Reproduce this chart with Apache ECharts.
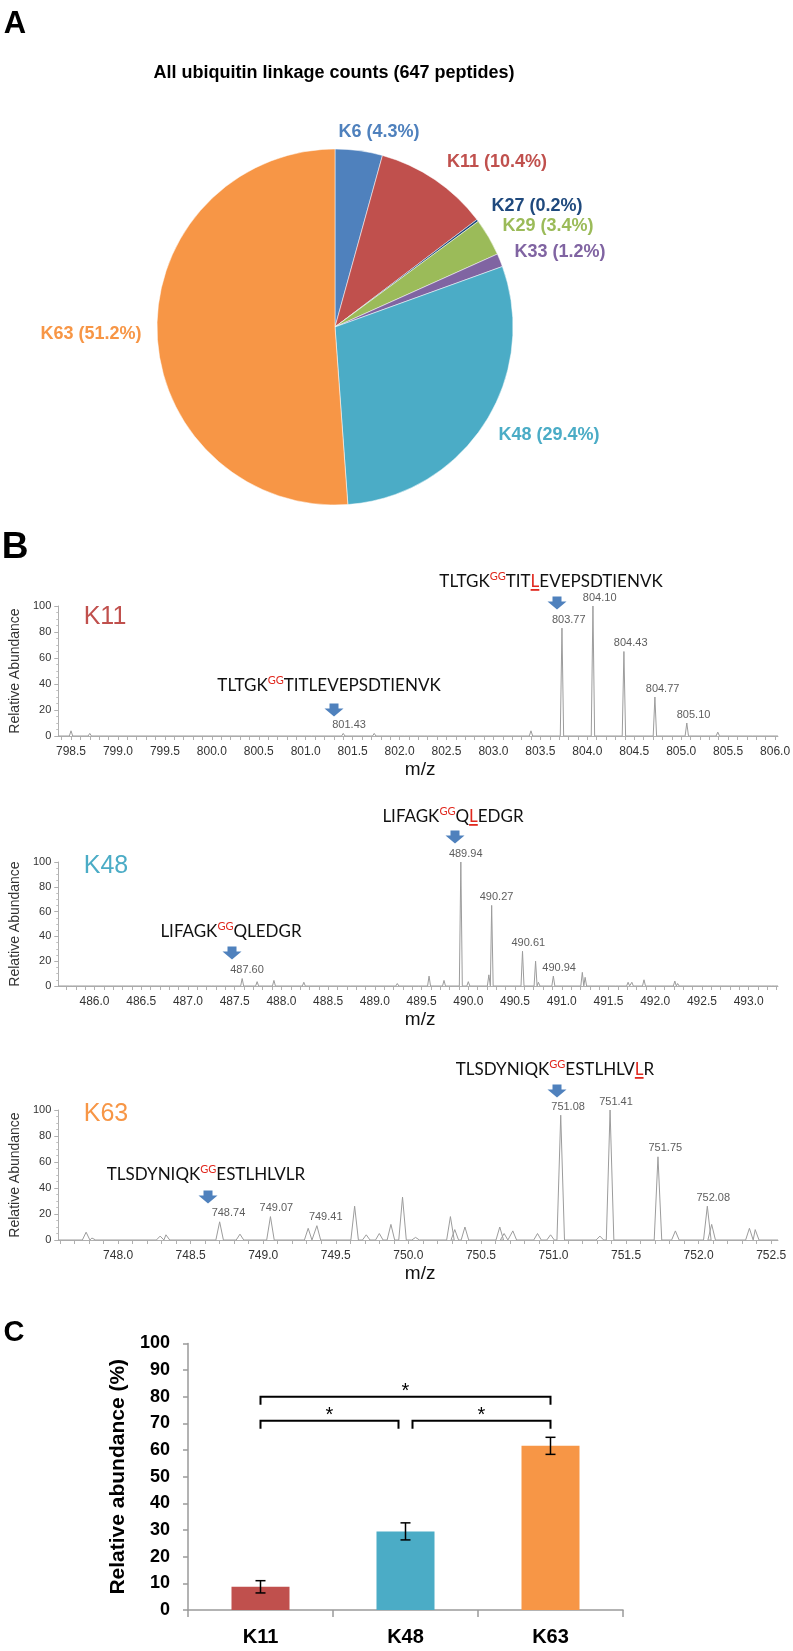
<!DOCTYPE html>
<html><head><meta charset="utf-8">
<script src="https://cdn.jsdelivr.net/npm/echarts@6/dist/echarts.min.js"></script>
<style>html,body{margin:0;padding:0;background:#fff}#c{width:793px;height:1651px}</style>
</head><body><div id="c"></div>
<script>
// ================= Panel A =================
const pieTitle = 'All ubiquitin linkage counts (647 peptides)';
const pieNames = ['K6', 'K11', 'K27', 'K29', 'K33', 'K48', 'K63'];
const piePercents = [4.3, 10.4, 0.2, 3.4, 1.2, 29.4, 51.2];
const pieColors = ['#4F81BD', '#C0504D', '#1F497D', '#9BBB59', '#8064A2', '#4BACC6', '#F79646'];

// ================= Panel B =================
// [m/z, relative abundance]
const k11Peaks = [[798.50,4],[798.70,2],[798.88,1],[801.08,1],[801.40,2],[801.73,2],[802.07,1.5],[802.28,1],[802.40,1],
  [803.40,4],[803.73,83],[804.06,100],[804.39,65],[804.72,30],[805.06,10],[805.39,3],[805.74,1]];
const k11PeakLabels = [[801.43,2],[803.77,83],[804.10,100],[804.43,65],[804.77,30],[805.10,10]];
const k11TickLabels = [798.5,799.0,799.5,800.0,800.5,801.0,801.5,802.0,802.5,803.0,803.5,804.0,804.5,805.0,805.5,806.0];

const k48Peaks = [[485.75,1],[486.30,1],[487.27,1.5],[487.58,6],[487.74,3.5],[487.92,4.5],[488.24,3],[488.72,1],[489.24,2],
  [489.58,8],[489.74,4.5],[489.92,100],[490.00,3.5],[490.22,9],[490.25,65],[490.58,28],[490.72,20],[490.75,3],[490.91,8],
  [491.22,11],[491.25,7],[491.59,1],[491.71,3],[491.75,3],[491.88,5],[492.21,4],[492.24,2],[492.54,1.5],[493.26,1]];
const k48PeakLabels = [[487.60,6],[489.94,100],[490.27,65],[490.61,28],[490.94,8]];
const k48TickLabels = [486.0,486.5,487.0,487.5,488.0,488.5,489.0,489.5,490.0,490.5,491.0,491.5,492.0,492.5,493.0];

const k63Peaks = [[747.78,6],[747.82,1.5],[748.29,3],[748.33,4],[748.70,14],[748.84,4.5],[749.05,18],[749.31,9],[749.37,11],
  [749.63,26],[749.71,4],[749.80,5],[749.88,12],[749.96,33],[750.05,2],[750.29,18],[750.32,8],[750.39,10],[750.63,10],
  [750.66,5],[750.72,7],[750.89,5],[750.98,4],[751.05,96],[751.32,3],[751.39,100],[751.72,64],[751.84,7],[752.06,26],
  [752.09,12],[752.35,9],[752.39,8]];
const k63PeakLabels = [[748.74,14],[749.07,18],[749.41,11],[751.08,96],[751.41,100],[751.75,64],[752.08,26]];
const k63TickLabels = [748.0,748.5,749.0,749.5,750.0,750.5,751.0,751.5,752.0,752.5];

const spectrumNames = ['K11', 'K48', 'K63'];
const spectrumColors = ['#C0504D', '#4BACC6', '#F79646'];
// ^..^ = superscript modification, _.._ = underlined heavy residue
const peptides = [
  ['TLTGK^GG^TITLEVEPSDTIENVK', 'TLTGK^GG^TIT_L_EVEPSDTIENVK'],
  ['LIFAGK^GG^QLEDGR', 'LIFAGK^GG^Q_L_EDGR'],
  ['TLSDYNIQK^GG^ESTLHLVLR', 'TLSDYNIQK^GG^ESTLHLV_L_R']
];
const spectrumYTicks = [0, 20, 40, 60, 80, 100];

// ================= Panel C =================
const barCats = ['K11', 'K48', 'K63'];
const barValues = [8.7, 29.5, 61.6];
const barErrors = [2.3, 3.2, 3.2];
const barColors = ['#C0504D', '#4BACC6', '#F79646'];
const brackets = [[0, 2, 80], [0, 1, 71], [1, 2, 71]]; // from, to, level
const barYTicks = [0,10,20,30,40,50,60,70,80,90,100];

// ================= helpers =================
const ARIAL = '"Liberation Sans", Arial, Helvetica, sans-serif';
const PEPFONT = 'Lato, "Open Sans", sans-serif';
const mctx = document.createElement('canvas').getContext('2d');
function tw(str, font) { mctx.font = font; return mctx.measureText(str).width; }

function spectrumLine(peaks, w, min, max) {
  const pts = [[min, 0]];
  peaks.slice().sort((a, b) => a[0] - b[0]).forEach(([mz, h]) => { pts.push([mz - w, 0], [mz, h], [mz + w, 0]); });
  pts.push([max, 0]);
  return pts;
}
function tenthTicks(min, max) {
  const out = [];
  for (let i = Math.ceil(min * 10); i <= Math.floor(max * 10); i++) out.push(i / 10);
  return out;
}
function peptideGraphic(markup, cx, cy) {
  const big = 17, small = 11;
  const tokens = []; const re = /\^([^^]+)\^|_([^_]+)_|([^^_]+)/g; let m;
  while ((m = re.exec(markup))) {
    if (m[1]) tokens.push({ t: m[1], k: 's' });
    else if (m[2]) tokens.push({ t: m[2], k: 'u' });
    else tokens.push({ t: m[3], k: 'n' });
  }
  const fonts = tokens.map(tk => (tk.k === 's' ? small : big) + 'px ' + PEPFONT);
  const widths = tokens.map((tk, i) => tw(tk.t, fonts[i]));
  const total = widths.reduce((a, b) => a + b, 0);
  let x = cx - total / 2;
  const children = [];
  tokens.forEach((tk, i) => {
    const red = tk.k !== 'n';
    children.push({ type: 'text', style: { text: tk.t, x: x, y: tk.k === 's' ? cy - 6 : cy, font: fonts[i],
      fill: red ? '#E0281E' : '#111', align: 'left', verticalAlign: 'middle', textAlign: 'left', textVerticalAlign: 'middle' } });
    if (tk.k === 'u') children.push({ type: 'rect', shape: { x: x, y: cy + 7, width: widths[i], height: 1.8 }, style: { fill: '#E0281E' } });
    x += widths[i];
  });
  return { type: 'group', z: 100, children };
}
function arrow(cx, cy) {
  return { type: 'polygon', z: 100, shape: { points: [[cx - 4.5, cy - 6.5], [cx + 4.5, cy - 6.5], [cx + 4.5, cy - 1.5], [cx + 9.5, cy - 1.5], [cx, cy + 6.5], [cx - 9.5, cy - 1.5], [cx - 4.5, cy - 1.5]] }, style: { fill: '#4F81BD' } };
}
function txt(text, x, y, size, color, weight, align) {
  return { type: 'text', z: 100, style: { text, x, y, font: (weight || 'normal') + ' ' + size + 'px ' + ARIAL, fill: color,
    align: align || 'center', verticalAlign: 'middle', textAlign: align || 'center', textVerticalAlign: 'middle' } };
}

// layout (pixel) settings
const specGrids = [{ top: 606, height: 130 }, { top: 862, height: 124 }, { top: 1110, height: 130 }];
const specRanges = [[798.364, 806.031], [485.612, 493.314], [747.588, 752.547]];
const specHalfWidth = [0.018, 0.016, 0.026];
const allPeaks = [k11Peaks, k48Peaks, k63Peaks];
const allPeakLabels = [k11PeakLabels, k48PeakLabels, k63PeakLabels];
const allTickLabels = [k11TickLabels, k48TickLabels, k63TickLabels];

const grids = specGrids.map(g => ({ left: 43, width: 735, top: g.top, height: g.height }));
grids.push({ left: 188, width: 435, top: 1343.5, height: 266.5 });

const xAxes = [], yAxes = [], series = [];
for (let i = 0; i < 3; i++) {
  const [mn, mx] = specRanges[i];
  xAxes.push({ type: 'value', gridIndex: i, min: mn, max: mx,
    axisLine: { show: true, onZero: false, lineStyle: { color: '#b0b0b0', width: 1 } },
    axisTick: { show: true, customValues: tenthTicks(mn, mx), length: 4, lineStyle: { color: '#b0b0b0' } },
    axisLabel: { customValues: allTickLabels[i], formatter: v => v.toFixed(1), fontSize: 12, color: '#333', margin: 10, fontFamily: ARIAL },
    splitLine: { show: false },
    name: 'm/z', nameLocation: 'middle', nameGap: 24,
    nameTextStyle: { fontSize: 19, color: '#111', fontFamily: ARIAL, padding: [0, 0, 0, 4] } });
  yAxes.push({ type: 'value', gridIndex: i, min: 0, max: 100, interval: 20,
    axisLine: { show: true, lineStyle: { color: '#b0b0b0' } },
    axisTick: { show: true, length: 4, lineStyle: { color: '#b0b0b0' } },
    minorTick: { show: true, splitNumber: 4, length: 2, lineStyle: { color: '#c0c0c0' } },
    axisLabel: { fontSize: 11, color: '#333', margin: 7, fontFamily: ARIAL },
    splitLine: { show: false },
    name: 'Relative Abundance', nameLocation: 'middle', nameGap: 27,
    nameTextStyle: { fontSize: 14, color: '#333', fontFamily: ARIAL } });
  series.push({ type: 'line', xAxisIndex: i, yAxisIndex: i, symbol: 'none', silent: true,
    data: spectrumLine(allPeaks[i], specHalfWidth[i], mn, mx),
    lineStyle: { color: '#9c9c9c', width: 1 } });
  series.push({ type: 'scatter', xAxisIndex: i, yAxisIndex: i, symbolSize: 0, silent: true,
    data: allPeakLabels[i],
    label: { show: true, position: 'top', distance: 3, offset: [3, 0], fontSize: 11, color: '#333', fontFamily: ARIAL,
      formatter: p => p.value[0].toFixed(2) } });
}

// bar chart axes
xAxes.push({ type: 'category', gridIndex: 3, data: barCats,
  axisLine: { lineStyle: { color: '#9a9a9a', width: 1.5 } },
  axisTick: { show: true, length: 7, alignWithLabel: false, lineStyle: { color: '#9a9a9a', width: 1.5 } },
  axisLabel: { fontSize: 20, fontWeight: 'bold', color: '#000', margin: 17, fontFamily: ARIAL } });
yAxes.push({ type: 'value', gridIndex: 3, min: 0, max: 100, interval: 10,
  axisLine: { show: true, lineStyle: { color: '#9a9a9a', width: 1.5 } },
  axisTick: { show: true, length: 5, lineStyle: { color: '#9a9a9a', width: 1.5 } },
  axisLabel: { fontSize: 18, fontWeight: 'bold', color: '#000', margin: 18, fontFamily: ARIAL },
  splitLine: { show: false },
  name: 'Relative abundance (%)', nameLocation: 'middle', nameGap: 57,
  nameTextStyle: { fontSize: 21, fontWeight: 'bold', color: '#000', fontFamily: ARIAL } });

series.push({ type: 'bar', xAxisIndex: 3, yAxisIndex: 3, barWidth: 58,
  data: barValues.map((v, i) => ({ value: v, itemStyle: { color: barColors[i] } })) });
series.push({ type: 'custom', xAxisIndex: 3, yAxisIndex: 3, z: 5, silent: true,
  data: barValues.map((v, i) => [i, v, barErrors[i]]), encode: { x: 0, y: 1 },
  renderItem: (params, api) => {
    const x = api.value(0), v = api.value(1), e = api.value(2);
    const top = api.coord([x, v + e]), bot = api.coord([x, v - e]);
    const st = { stroke: '#000', lineWidth: 1.5, fill: null };
    return { type: 'group', children: [
      { type: 'line', shape: { x1: top[0], y1: top[1], x2: bot[0], y2: bot[1] }, style: st },
      { type: 'line', shape: { x1: top[0] - 5, y1: top[1], x2: top[0] + 5, y2: top[1] }, style: st },
      { type: 'line', shape: { x1: bot[0] - 5, y1: bot[1], x2: bot[0] + 5, y2: bot[1] }, style: st }
    ] };
  } });
series.push({ type: 'custom', xAxisIndex: 3, yAxisIndex: 3, z: 5, silent: true,
  data: brackets, encode: { x: 0, y: 2 },
  renderItem: (params, api) => {
    const from = api.value(0), to = api.value(1), lvl = api.value(2);
    const p1 = api.coord([from, lvl]), p2 = api.coord([to, lvl]);
    const drop = api.size([0, 3])[1];
    const x1 = p1[0] + (from === 1 ? 7 : 0), x2 = p2[0] - (to === 1 ? 7 : 0), y = p1[1];
    return { type: 'group', children: [
      { type: 'polyline', shape: { points: [[x1, y + drop], [x1, y], [x2, y], [x2, y + drop]] }, style: { stroke: '#000', lineWidth: 2, fill: null } },
      { type: 'text', style: { text: '*', x: (x1 + x2) / 2, y: y - 5, font: '20px ' + ARIAL, fill: '#000', align: 'center', verticalAlign: 'middle', textAlign: 'center', textVerticalAlign: 'middle' } }
    ] };
  } });

// pie
const pieLabelPos = [[379, 132], [497, 162], [537, 206], [548, 226], [560, 252], [549, 435], [91, 334]];
series.push({ type: 'pie', center: [335, 327], radius: 178, startAngle: 90, clockwise: true, silent: true,
  avoidLabelOverlap: false,
  data: pieNames.map((n, i) => ({ name: n, value: piePercents[i], itemStyle: { color: pieColors[i] }, label: { color: pieColors[i] } })),
  itemStyle: { borderColor: '#fff', borderWidth: 0.5 },
  label: { show: true, position: 'outside', fontSize: 18, fontWeight: 'bold', fontFamily: ARIAL,
    formatter: p => p.name + ' (' + p.value + '%)' },
  labelLine: { show: false },
  labelLayout: p => ({ x: pieLabelPos[p.dataIndex][0], y: pieLabelPos[p.dataIndex][1], align: 'center', verticalAlign: 'middle' }) });

// annotations
const spectrumLabelPos = [[105, 617], [106, 866], [106, 1114]];
const pepPos = [[[329, 686], [551, 582]], [[231, 932], [453, 817]], [[206, 1175], [555, 1070]]];
const arrowPos = [[[334, 710], [557, 603]], [[232, 953], [455, 837]], [[208, 1197], [557, 1091]]];
const elements = [
  txt('A', 15, 24, 31, '#000', 'bold'),
  txt(pieTitle, 334, 73, 18, '#000', 'bold'),
  txt('B', 15, 548, 37, '#000', 'bold'),
  txt('C', 14, 1333, 29, '#000', 'bold')
];
for (let i = 0; i < 3; i++) {
  elements.push(txt(spectrumNames[i], spectrumLabelPos[i][0], spectrumLabelPos[i][1], 25, spectrumColors[i], 'normal'));
  for (let j = 0; j < 2; j++) {
    elements.push(peptideGraphic(peptides[i][j], pepPos[i][j][0], pepPos[i][j][1]));
    elements.push(arrow(arrowPos[i][j][0], arrowPos[i][j][1]));
  }
}

const chart = echarts.init(document.getElementById('c'), null, { renderer: 'canvas' });
chart.setOption({
  animation: false,
  backgroundColor: '#fff',
  textStyle: { fontFamily: ARIAL },
  grid: grids,
  xAxis: xAxes,
  yAxis: yAxes,
  series: series,
  graphic: { elements: elements }
});
</script></body></html>
